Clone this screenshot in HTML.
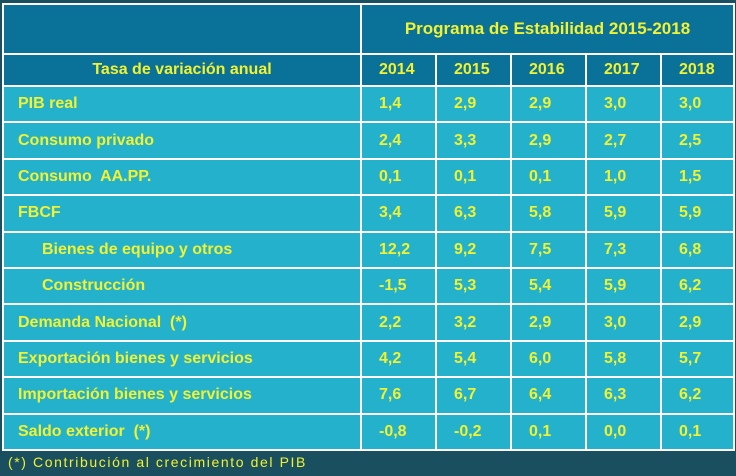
<!DOCTYPE html>
<html><head><meta charset="utf-8"><style>
body{margin:0;width:736px;height:476px;background:#194f5f;overflow:hidden;font-family:"Liberation Sans",sans-serif;}
table{position:absolute;left:2px;top:3px;border-collapse:collapse;}
td{border:2px solid #ffffff;color:#f2f230;font-weight:bold;font-size:16px;padding:0;height:34.4px;}
tr.y td{height:30px;}
tr.p td{height:48px;}
.h{background:#0a7199;}
.d{background:#23b1cc;}
td.lab{padding-left:14px;}
td.num{padding-left:17px;}
td.ind{padding-left:38px;}
#note{position:absolute;left:8px;top:454px;color:#f2f230;font-size:14px;letter-spacing:1.6px;}
</style></head><body>
<table>
<colgroup><col style="width:358px"><col style="width:75px"><col style="width:75px"><col style="width:75px"><col style="width:75px"><col style="width:73px"></colgroup>
<tr class="h p"><td></td><td colspan="5" style="text-align:center;font-size:17px">Programa de Estabilidad 2015-2018</td></tr>
<tr class="h y"><td style="text-align:center">Tasa de variación anual</td><td class="num">2014</td><td class="num">2015</td><td class="num">2016</td><td class="num">2017</td><td class="num">2018</td></tr>
<tr class="d"><td class="lab">PIB real</td><td class="num">1,4</td><td class="num">2,9</td><td class="num">2,9</td><td class="num">3,0</td><td class="num">3,0</td></tr>
<tr class="d"><td class="lab">Consumo privado</td><td class="num">2,4</td><td class="num">3,3</td><td class="num">2,9</td><td class="num">2,7</td><td class="num">2,5</td></tr>
<tr class="d"><td class="lab">Consumo&nbsp; AA.PP.</td><td class="num">0,1</td><td class="num">0,1</td><td class="num">0,1</td><td class="num">1,0</td><td class="num">1,5</td></tr>
<tr class="d"><td class="lab">FBCF</td><td class="num">3,4</td><td class="num">6,3</td><td class="num">5,8</td><td class="num">5,9</td><td class="num">5,9</td></tr>
<tr class="d"><td class="ind">Bienes de equipo y otros</td><td class="num">12,2</td><td class="num">9,2</td><td class="num">7,5</td><td class="num">7,3</td><td class="num">6,8</td></tr>
<tr class="d"><td class="ind">Construcción</td><td class="num">-1,5</td><td class="num">5,3</td><td class="num">5,4</td><td class="num">5,9</td><td class="num">6,2</td></tr>
<tr class="d"><td class="lab">Demanda Nacional&nbsp; (*)</td><td class="num">2,2</td><td class="num">3,2</td><td class="num">2,9</td><td class="num">3,0</td><td class="num">2,9</td></tr>
<tr class="d"><td class="lab">Exportación bienes y servicios</td><td class="num">4,2</td><td class="num">5,4</td><td class="num">6,0</td><td class="num">5,8</td><td class="num">5,7</td></tr>
<tr class="d"><td class="lab">Importación bienes y servicios</td><td class="num">7,6</td><td class="num">6,7</td><td class="num">6,4</td><td class="num">6,3</td><td class="num">6,2</td></tr>
<tr class="d"><td class="lab">Saldo exterior&nbsp; (*)</td><td class="num">-0,8</td><td class="num">-0,2</td><td class="num">0,1</td><td class="num">0,0</td><td class="num">0,1</td></tr>
</table>
<div id="note">(*) Contribución al crecimiento del PIB</div>
</body></html>
